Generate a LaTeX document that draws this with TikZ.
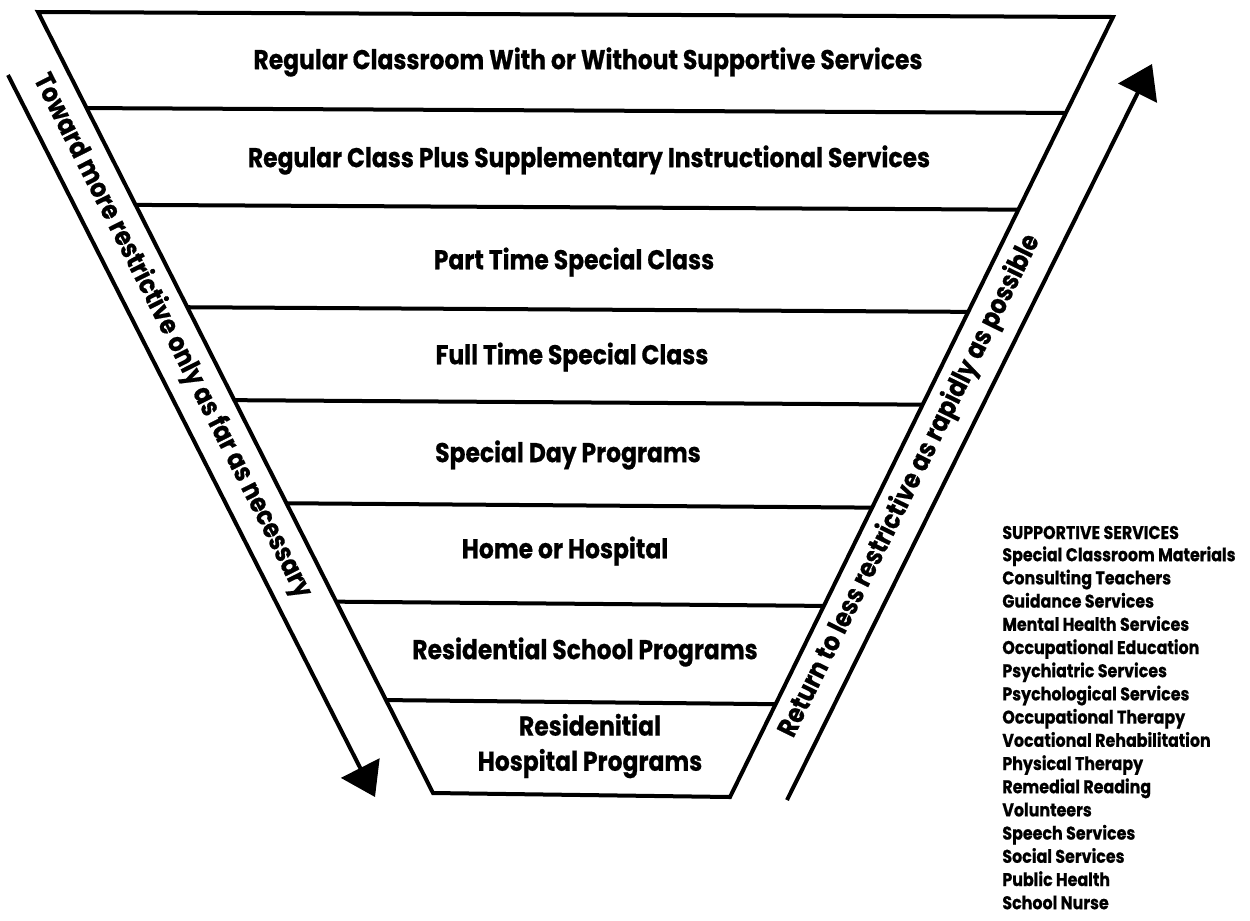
\documentclass[tikz,border=0pt]{standalone}
\usepackage{fontspec}
\usepackage{tikz}
\usetikzlibrary{arrows.meta,positioning,calc}
\newfontfamily\avant{Poppins}[FakeStretch=0.86, FakeBold=0.6]
\tikzset{
  tier/.style={line width=0.8mm, line join=miter},
  rowlab/.style={font=\avant\bfseries\fontsize{15.5}{20}\selectfont, inner sep=0pt},
  bandlab/.style={font=\avant\bfseries\fontsize{15.5}{16}\selectfont, inner sep=0pt},
  svc/.style={font=\avant\bfseries\fontsize{10.5}{11}\selectfont, anchor=base west, inner sep=0pt},
  svchead/.style={svc, font=\avant\bfseries\fontsize{10.5}{11}\selectfont},
  bigarr/.style={line width=0.8mm, -{Triangle[length=6.5mm, width=8.5mm]}},
}

\begin{document}
\begin{tikzpicture}[x=0.2mm, y=-0.2mm]
\useasboundingbox (0,0) rectangle (1250,920);
% funnel and its tiers
\coordinate (tl) at (38,12);
\coordinate (tr) at (1113,17);
\coordinate (br) at (730,797);
\coordinate (bl) at (433,793);
\draw[tier] (tl) -- (tr) -- (br) -- (bl) -- cycle;
\foreach \t in {0.123,0.247,0.378,0.497,0.629,0.755,0.881}
  \draw[tier] ($(tl)!\t!(bl)$) -- ($(tr)!\t!(br)$);

\node[rowlab] (lvl1) at (588,62) {Regular Classroom With or Without Supportive Services};
\node[rowlab] (lvl2) at (589,160) {Regular Class Plus Supplementary Instructional Services};
\node[rowlab] (lvl3) at (574,262) {Part Time Special Class};
\node[rowlab] (lvl4) at (572,357) {Full Time Special Class};
\node[rowlab] (lvl5) at (568,455) {Special Day Programs};
\node[rowlab] (lvl6) at (565,551) {Home or Hospital};
\node[rowlab] (lvl7) at (585,652) {Residential School Programs};
\node[rowlab, align=center] (lvl8) at (590,746) {Residenitial\\Hospital Programs};

% arrows beside the funnel
\coordinate (downtop) at (8,75);
\coordinate (downtip) at (375,797);
\coordinate (uptail) at (787,800);
\coordinate (uptip) at (1152,64);
\draw[bigarr] (downtop) -- (downtip);
\draw[bigarr] (uptail) -- (uptip);
\node[bandlab, rotate=-63.1] (downtxt) at (172,336) {Toward more restrictive only as far as necessary};
\node[bandlab, rotate=63.7] (uptxt) at (910,486) {Return to less restrictive as rapidly as possible};

% list of services
\node[svchead] (svhead) at (1002,539) {SUPPORTIVE SERVICES};
\foreach \s [count=\k] in {Special Classroom Materials, Consulting Teachers,
    Guidance Services, Mental Health Services, Occupational Education,
    Psychiatric Services, Psychological Services, Occupational Therapy,
    Vocational Rehabilitation, Physical Therapy, Remedial Reading, Volunteers,
    Speech Services, Social Services, Public Health, School Nurse}
  \node[svc] (sv\k) at (1002,538+23.2*\k) {\s};
\end{tikzpicture}
\end{document}
